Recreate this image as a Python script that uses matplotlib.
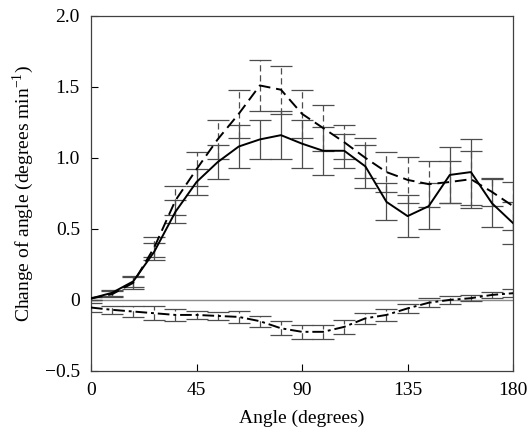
import numpy as np
import matplotlib
matplotlib.use('Agg')
import matplotlib.pyplot as plt

plt.rc('font', **{'family': 'Liberation Serif', 'size': 14})
plt.rcParams['mathtext.fontset'] = 'custom'
plt.rcParams['mathtext.rm'] = 'Liberation Serif'

# angles sampled every 9 degrees
angle = [0, 9, 18, 27, 36, 45, 54, 63, 72, 81, 90,
         99, 108, 117, 126, 135, 144, 153, 162, 171, 180]

# solid curve
solid = [0.01, 0.05, 0.13, 0.34, 0.62, 0.83, 0.97, 1.08, 1.13, 1.16, 1.10,
         1.05, 1.05, 0.94, 0.69, 0.59, 0.66, 0.88, 0.90, 0.68, 0.54]
solid_err = [0.01, 0.02, 0.04, 0.06, 0.08, 0.09, 0.12, 0.15, 0.14, 0.17, 0.17,
             0.17, 0.12, 0.15, 0.13, 0.15, 0.16, 0.20, 0.23, 0.17, 0.15]

# dashed curve
dashed = [0.01, 0.04, 0.12, 0.37, 0.70, 0.92, 1.13, 1.31, 1.51, 1.48, 1.31,
          1.21, 1.11, 1.00, 0.90, 0.845, 0.815, 0.83, 0.85, 0.76, 0.66]
dashed_err = [0.01, 0.02, 0.04, 0.07, 0.10, 0.12, 0.14, 0.17, 0.18, 0.17, 0.17,
              0.16, 0.12, 0.14, 0.14, 0.16, 0.16, 0.15, 0.20, 0.10, 0.17]

# dash-dot curve
dashdot = [-0.054, -0.07, -0.082, -0.094, -0.106, -0.106, -0.113, -0.12, -0.15, -0.20, -0.225,
           -0.225, -0.19, -0.13, -0.106, -0.06, -0.02, 0.0, 0.012, 0.035, 0.047]
dashdot_err = [0.03, 0.03, 0.04, 0.05, 0.04, 0.03, 0.03, 0.04, 0.04, 0.05, 0.05,
               0.05, 0.05, 0.04, 0.04, 0.03, 0.03, 0.03, 0.02, 0.02, 0.03]

fig = plt.figure(figsize=(5.29, 4.41), dpi=100)
ax = fig.add_axes([0.172, 0.159, 0.798, 0.805])

ax.axhline(0, color='0.55', linewidth=1.0, zorder=1)

for y, e, ls in [(solid, solid_err, '-'), (dashed, dashed_err, (0, (6, 3))),
                 (dashdot, dashdot_err, (0, (6, 2, 1.5, 2)))]:
    eb = ax.errorbar(angle, y, yerr=e, fmt='none', ecolor='0.3', elinewidth=0.9,
                     capsize=8, capthick=0.9, zorder=2)
    if ls != '-':
        eb[2][0].set_linestyle((0, (5, 3)))
    ax.plot(angle, y, color='black', linestyle=ls, linewidth=1.4, zorder=3)

ax.set_xlim(0, 180)
ax.set_ylim(-0.5, 2.0)
ax.set_xticks([0, 45, 90, 135, 180])
ax.set_yticks([-0.5, 0, 0.5, 1.0, 1.5, 2.0])
ax.set_yticklabels(['\u22120.5', '0', '0.5', '1.0', '1.5', '2.0'])
ax.tick_params(direction='in', length=5, width=0.8, top=False, right=False, pad=8)
for s in ax.spines.values():
    s.set_linewidth(0.9)
    s.set_color('0.25')

ax.set_xlabel('Angle (degrees)', labelpad=8)
ax.set_ylabel('Change of angle (degrees min$^{-1}$)', labelpad=6)

plt.savefig('out.png', dpi=100)
